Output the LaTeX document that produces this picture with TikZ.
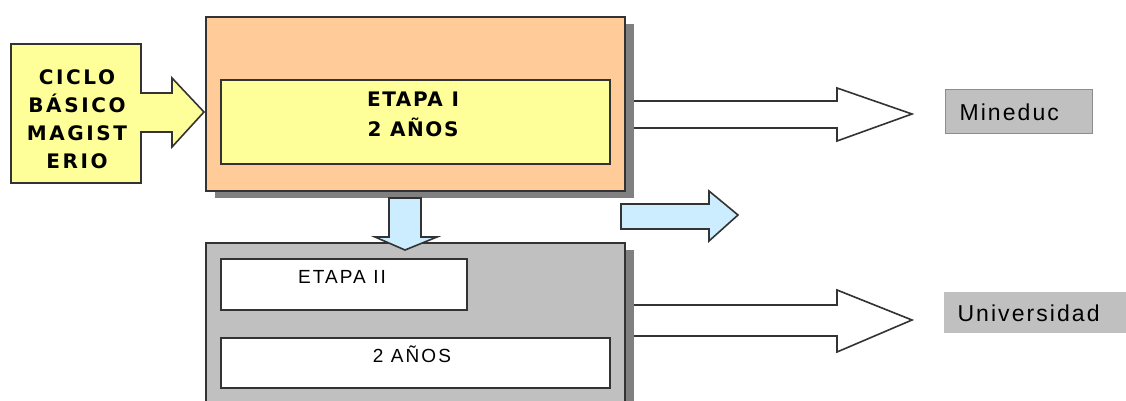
\documentclass[tikz,border=0pt]{standalone}
\usepackage{fontspec}
\setmainfont{Liberation Sans}
\newfontfamily\boldpix[LetterSpace=13]{DejaVu Sans Bold}
\newfontfamily\boldpixb[LetterSpace=8]{DejaVu Sans Bold}
\newfontfamily\lightpix[LetterSpace=11]{Liberation Sans}
\newfontfamily\labelpix[LetterSpace=9]{Liberation Sans}
\definecolor{peach}{HTML}{FFCC99}
\definecolor{paleyellow}{HTML}{FFFF99}
\definecolor{boxgray}{HTML}{C0C0C0}
\definecolor{shadowgray}{HTML}{808080}
\definecolor{paleblue}{HTML}{CCECFF}
\definecolor{edge}{HTML}{333333}
\tikzset{
  outline/.style={draw=edge, line width=1.6pt},
  blockarrow/.style={outline, line join=miter},
}
\begin{document}
\begin{tikzpicture}[x=1pt,y=-1pt]
\useasboundingbox (0,0) rectangle (1126,401);
\fill[white] (0,0) rectangle (1126,401);

% white output arrows (behind shadows)
\draw[blockarrow, fill=white] (633,101) -- (837,101) -- (837,88) -- (912,114) -- (837,141) -- (837,128) -- (633,128) -- cycle;
\draw[blockarrow, fill=white] (633,305) -- (837,305) -- (837,290) -- (912,320) -- (837,352) -- (837,336) -- (633,336) -- cycle;

% shadows
\fill[shadowgray] (215,24) rectangle (634,198);
\fill[shadowgray] (215,250) rectangle (634,410);

% upper stage
\node[outline, fill=peach, minimum width=419pt, minimum height=174pt, anchor=north west, inner sep=0pt] (etapa1box) at (205,16) {};
\node[outline, fill=paleyellow, minimum width=389pt, minimum height=84pt, anchor=north west, inner sep=0pt] (etapa1) at (220,79) {};
\node[font=\boldpixb\fontsize{20}{30}\selectfont, align=center, text=black] (etapa1txt) at (413,114) {ETAPA I\\2 AÑOS};

% lower stage
\node[outline, fill=boxgray, minimum width=419pt, minimum height=160pt, anchor=north west, inner sep=0pt] (etapa2box) at (205,242) {};
\node[outline, fill=white, minimum width=246pt, minimum height=51pt, anchor=north west, inner sep=0pt] (etapa2) at (220,258) {};
\node[font=\lightpix\fontsize{19}{19}\selectfont] (etapa2txt) at (342,277) {ETAPA II};
\node[outline, fill=white, minimum width=389pt, minimum height=50pt, anchor=north west, inner sep=0pt] (anos2) at (220,337) {};
\node[font=\lightpix\fontsize{19}{19}\selectfont] (anos2txt) at (412,354) {2 AÑOS};

% ciclo basico
\node[outline, fill=paleyellow, minimum width=130pt, minimum height=139pt, anchor=north west, inner sep=0pt] (ciclo) at (10,43) {};
\node[font=\boldpix\fontsize{20}{28}\selectfont, align=center] (ciclotxt) at (77,119) {CICLO\\BÁSICO\\MAGIST\\ERIO};
\draw[blockarrow, fill=paleyellow] (140,93) -- (172,93) -- (172,78) -- (204,112) -- (172,147) -- (172,132) -- (140,132);

% blue arrows
\draw[blockarrow, fill=paleblue] (389,198) -- (421,198) -- (421,237) -- (437,237) -- (405,250) -- (375,237) -- (389,237) -- cycle;
\draw[blockarrow, fill=paleblue] (621,204) -- (709,204) -- (709,191) -- (738,215) -- (709,241) -- (709,229) -- (621,229) -- cycle;

% targets
\node[fill=boxgray, draw=gray!90, line width=1pt, minimum width=147pt, minimum height=44pt, anchor=north west, inner sep=0pt] (mineduc) at (945,89) {};
\node[font=\labelpix\fontsize{23}{23}\selectfont, anchor=west] (mineductxt) at (956,112) {Mineduc};
\node[fill=boxgray, minimum width=182pt, minimum height=41pt, anchor=north west, inner sep=0pt] (univ) at (944,292) {};
\node[font=\labelpix\fontsize{23}{23}\selectfont, anchor=west] (univtxt) at (954,313) {Universidad};
\end{tikzpicture}
\end{document}
